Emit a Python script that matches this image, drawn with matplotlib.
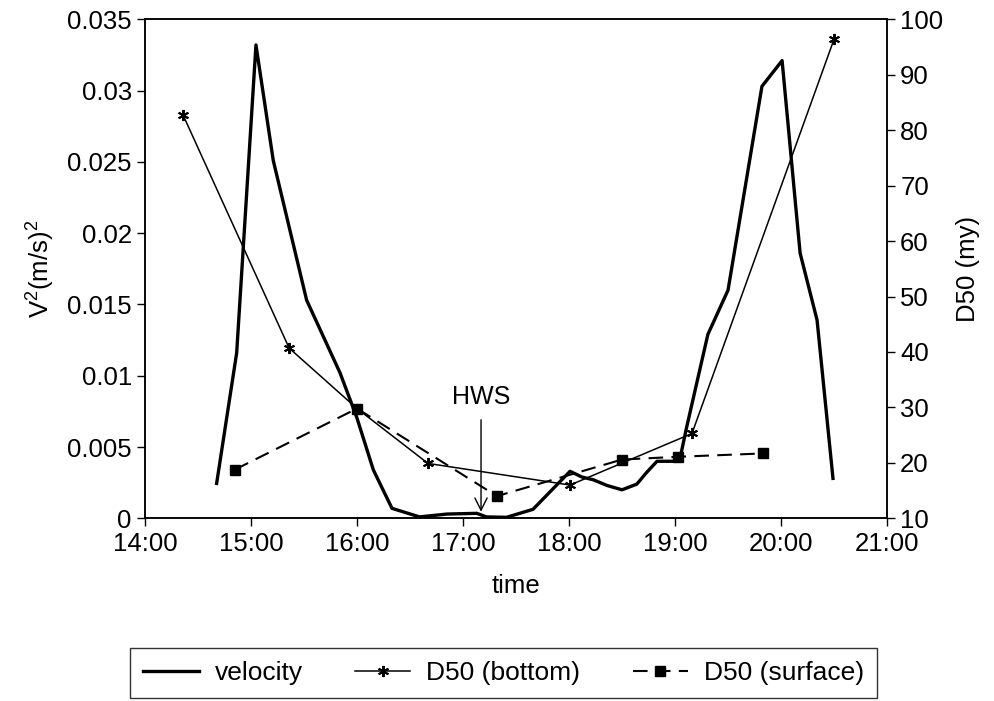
import matplotlib
matplotlib.use('Agg')
import matplotlib.pyplot as plt

plt.rcParams['font.family'] = ['Liberation Sans', 'DejaVu Sans']
plt.rcParams['mathtext.default'] = 'regular'

# velocity squared (left axis), time in decimal hours
vel_time = [14.676, 14.865, 15.047, 15.21, 15.525, 15.84, 15.997, 16.154, 16.33,
            16.59, 16.85, 17.13, 17.22, 17.41, 17.66, 18.01, 18.12, 18.23, 18.36,
            18.50, 18.64, 18.73, 18.83, 19.01, 19.05, 19.11, 19.31, 19.50, 19.82,
            20.01, 20.18, 20.34, 20.49]
vel_sq = [0.00245, 0.0116, 0.0332, 0.0251, 0.0153, 0.0102, 0.0071, 0.0034, 0.0007,
          0.0001, 0.0003, 0.00035, 0.0001, 0.00007, 0.00063, 0.0033, 0.0029, 0.0027,
          0.0023, 0.0020, 0.0024, 0.0032, 0.0040, 0.0040, 0.0043, 0.0064, 0.0129,
          0.0160, 0.0303, 0.0321, 0.0186, 0.0139, 0.0028]

# D50 grain size (right axis)
bottom_time = [14.36, 15.36, 16.0, 16.67, 18.01, 19.16, 20.5]
bottom_d50 = [82.7, 40.7, 29.8, 19.9, 16.0, 25.3, 96.4]
surface_time = [14.85, 16.0, 17.32, 18.50, 19.03, 19.83]
surface_d50 = [18.8, 29.8, 14.0, 20.6, 21.1, 21.7]

hws_time = 17.17
x_ticks = [14, 15, 16, 17, 18, 19, 20, 21]
x_labels = ['14:00', '15:00', '16:00', '17:00', '18:00', '19:00', '20:00', '21:00']
v_ticks = [0, 0.005, 0.01, 0.015, 0.02, 0.025, 0.03, 0.035]
v_labels = ['0', '0.005', '0.01', '0.015', '0.02', '0.025', '0.03', '0.035']
d_ticks = [10, 20, 30, 40, 50, 60, 70, 80, 90, 100]

fs = 18.5
fig = plt.figure(figsize=(9.95, 7.01), dpi=100)
ax = fig.add_axes([0.1457, 0.2606, 0.7458, 0.7119])
ax2 = ax.twinx()

l1, = ax.plot(vel_time, vel_sq, color='black', lw=2.4, label='velocity', zorder=3)
l2, = ax2.plot(bottom_time, bottom_d50, color='black', lw=1.1, marker=(6, 2, 0),
               markersize=8, markeredgewidth=1.4, label='D50 (bottom)')
l3, = ax2.plot(surface_time, surface_d50, color='black', lw=1.5, linestyle=(0, (7, 4)),
               marker='s', markersize=6.5, label='D50 (surface)')

ax.set_xlim(14, 21)
ax.set_ylim(0, 0.035)
ax2.set_ylim(10, 100)
ax.set_xticks(x_ticks)
ax.set_xticklabels(x_labels)
ax.set_yticks(v_ticks)
ax.set_yticklabels(v_labels)
ax2.set_yticks(d_ticks)

for a in (ax, ax2):
    a.tick_params(direction='out', length=5.5, width=1, labelsize=fs, pad=4)
    for s in a.spines.values():
        s.set_linewidth(1.1)

ax.set_xlabel('time', fontsize=fs, labelpad=13)
ax.set_ylabel(r'V$^2$(m/s)$^2$', fontsize=fs, labelpad=7)
ax2.set_ylabel('D50 (my)', fontsize=fs, labelpad=9)

ax.annotate('HWS', xy=(hws_time, 0.00046), xytext=(hws_time, 0.00853),
            ha='center', va='center', fontsize=18,
            arrowprops=dict(arrowstyle='->', color='black', lw=1.0,
                            shrinkA=6, shrinkB=0, mutation_scale=22))

leg = fig.legend([l1, l2, l3], ['velocity', 'D50 (bottom)', 'D50 (surface)'],
                 loc='lower left', bbox_to_anchor=(0.1307, 0.0043, 0.7508, 0.0827),
                 mode='expand', ncol=3, fontsize=19, frameon=True, fancybox=False,
                 edgecolor='black', handlelength=2.1, handletextpad=0.6,
                 borderaxespad=0, borderpad=0.5)
leg.get_frame().set_linewidth(1.0)

fig.savefig('out.png', dpi=100)
